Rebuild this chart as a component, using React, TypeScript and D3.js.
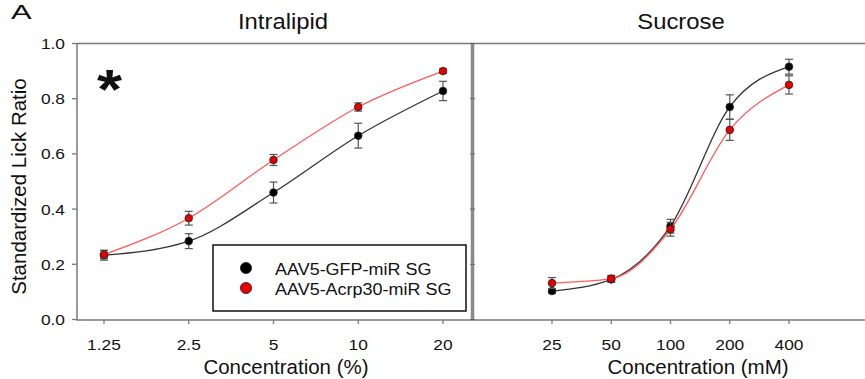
import React from 'react'
import * as d3 from 'd3'

// Intralipid (%)
const lipidConc = [1.25, 2.5, 5, 10, 20]
const lipidGfp = [0.233, 0.284, 0.46, 0.666, 0.828]
const lipidGfpErr = [0.018, 0.027, 0.038, 0.045, 0.035]
const lipidAcrp = [0.235, 0.367, 0.578, 0.77, 0.9]
const lipidAcrpErr = [0.015, 0.025, 0.02, 0.015, 0.008]

// Sucrose (mM)
const sucConc = [25, 50, 100, 200, 400]
const sucGfp = [0.103, 0.145, 0.338, 0.77, 0.916]
const sucGfpErr = [0.008, 0.01, 0.025, 0.044, 0.027]
const sucAcrp = [0.132, 0.148, 0.327, 0.687, 0.85]
const sucAcrpErr = [0.02, 0.012, 0.025, 0.038, 0.033]

const yTicks = [0, 0.2, 0.4, 0.6, 0.8, 1.0]
const lipidTickLabels = ['1.25', '2.5', '5', '10', '20']
const sucTickLabels = ['25', '50', '100', '200', '400']

const W = 865, H = 379
const FONT = '"Liberation Sans", Arial, sans-serif'
const AXIS = '#7a7a7a'
const RED_LINE = '#ff5a5a'
const RED_FILL = '#e60000'

const y = d3.scaleLinear().domain([0, 1]).range([319.5, 43.5])
const xL = d3.scaleLog().domain([1.25, 20]).range([104, 443])
const xR = d3.scaleLog().domain([25, 400]).range([552, 789])

function Txt({ x, y, size, sx = 1, anchor = 'start', weight = 'normal', rotate = 0, children }: any) {
  return (
    <text transform={`translate(${x},${y}) rotate(${rotate}) scale(${sx},1)`} fontSize={size}
      fontFamily={FONT} fontWeight={weight} textAnchor={anchor} fill="#111">{children}</text>
  )
}

function Series({ x, xs, ys, errs, stroke, fill }: any) {
  const pts = xs.map((c: number, i: number) => [x(c), y(ys[i])] as [number, number])
  const line = d3.line().curve(d3.curveMonotoneX)(pts) || ''
  return (
    <g>
      <path d={line} fill="none" stroke={stroke} strokeWidth={1.3} />
      {xs.map((c: number, i: number) => {
        const cx = x(c), top = y(ys[i] + errs[i]), bot = y(ys[i] - errs[i])
        return (
          <g key={i} stroke="#555" strokeWidth={1.2}>
            <line x1={cx} x2={cx} y1={top} y2={bot} />
            <line x1={cx - 4} x2={cx + 4} y1={top} y2={top} />
            <line x1={cx - 4} x2={cx + 4} y1={bot} y2={bot} />
          </g>
        )
      })}
      {xs.map((c: number, i: number) => (
        <circle key={'c' + i} cx={x(c)} cy={y(ys[i])} r={3.8} fill={fill} stroke="#222" strokeWidth={0.8} />
      ))}
    </g>
  )
}

export default function App() {
  return (
    <svg width={W} height={H} viewBox={`0 0 ${W} ${H}`} style={{ position: 'absolute', left: 0, top: 0, background: '#fff' }}>
      <rect width={W} height={H} fill="#fff" />
      <Txt x={11} y={18.5} size={20} sx={1.55}>A</Txt>
      <Txt x={283} y={29} size={22.5} sx={1.06} anchor="middle">Intralipid</Txt>
      <Txt x={681} y={29} size={22.5} sx={1.06} anchor="middle">Sucrose</Txt>

      {/* frame */}
      <line x1={77} x2={W} y1={43.5} y2={43.5} stroke={AXIS} strokeWidth={1.5} />
      <line x1={77} x2={W} y1={320} y2={320} stroke={AXIS} strokeWidth={1.5} />
      <line x1={77} x2={77} y1={43} y2={320.5} stroke={AXIS} strokeWidth={1.5} />
      <line x1={472.5} x2={472.5} y1={43} y2={320.5} stroke="#8a8a8a" strokeWidth={3.5} />

      {/* y ticks */}
      {yTicks.map(t => (
        <g key={t}>
          <line x1={72} x2={77} y1={y(t)} y2={y(t)} stroke={AXIS} strokeWidth={1.3} />
          <line x1={470} x2={475} y1={y(t)} y2={y(t)} stroke="#666" strokeWidth={1} />
          <Txt x={65} y={y(t) + 5.5} size={15.5} sx={1.12} anchor="end">{t.toFixed(1)}</Txt>
        </g>
      ))}

      {/* x ticks */}
      {lipidConc.map((c, i) => (
        <g key={'l' + c}>
          <line x1={xL(c)} x2={xL(c)} y1={320} y2={324} stroke={AXIS} strokeWidth={1.3} />
          <Txt x={xL(c)} y={349.5} size={15.5} sx={1.12} anchor="middle">{lipidTickLabels[i]}</Txt>
        </g>
      ))}
      {sucConc.map((c, i) => (
        <g key={'s' + c}>
          <line x1={xR(c)} x2={xR(c)} y1={320} y2={324} stroke={AXIS} strokeWidth={1.3} />
          <Txt x={xR(c)} y={349.5} size={15.5} sx={1.12} anchor="middle">{sucTickLabels[i]}</Txt>
        </g>
      ))}

      <Txt x={286} y={374} size={20.5} anchor="middle">Concentration (%)</Txt>
      <Txt x={698} y={374} size={20.5} anchor="middle">Concentration (mM)</Txt>
      <Txt x={26} y={186.5} size={20.5} anchor="middle" rotate={-90}>Standardized Lick Ratio</Txt>

      <Txt x={97} y={108} size={56} sx={1.15} weight="bold">*</Txt>

      <Series x={xL} xs={lipidConc} ys={lipidGfp} errs={lipidGfpErr} stroke="#333" fill="#000" />
      <Series x={xL} xs={lipidConc} ys={lipidAcrp} errs={lipidAcrpErr} stroke={RED_LINE} fill={RED_FILL} />
      <Series x={xR} xs={sucConc} ys={sucGfp} errs={sucGfpErr} stroke="#333" fill="#000" />
      <Series x={xR} xs={sucConc} ys={sucAcrp} errs={sucAcrpErr} stroke={RED_LINE} fill={RED_FILL} />

      {/* legend */}
      <rect x={213} y={245} width={253} height={66} fill="#fff" stroke="#111" strokeWidth={1.5} />
      <circle cx={246} cy={268} r={5.6} fill="#000" stroke="#222" strokeWidth={0.8} />
      <circle cx={246} cy={288} r={5.6} fill={RED_FILL} stroke="#222" strokeWidth={0.8} />
      <Txt x={275} y={274.5} size={16.5} sx={1.09}>AAV5-GFP-miR SG</Txt>
      <Txt x={275} y={294.5} size={16.5} sx={1.09}>AAV5-Acrp30-miR SG</Txt>
    </svg>
  )
}
